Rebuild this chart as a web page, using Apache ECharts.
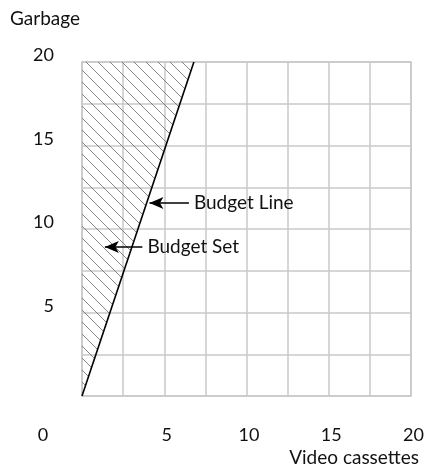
<!DOCTYPE html>
<html><head><meta charset="utf-8">
<script src="https://cdn.jsdelivr.net/npm/echarts@6/dist/echarts.min.js"></script>
<style>html,body{margin:0;padding:0;background:#fff}#c{width:427px;height:466px}</style>
</head><body><div id="c"></div>
<script>
// Data
const xTicks = [0, 5, 10, 15, 20];
const yTicks = [0, 5, 10, 15, 20];
const budgetLine = [[0, 0], [6.8, 20]];          // Budget line endpoints (video cassettes, garbage)
const budgetSetArea = [[0, 0], [6.8, 20], [0, 20]]; // hatched budget set
const annotations = [
  { name: 'Budget Line', from: [6.5, 11.55], to: [4.1, 11.55] },
  { name: 'Budget Set', from: [3.67, 8.92], to: [1.39, 8.92] }
];

const FONT = 'Lato';
const TXT = 19, NUM = 18;
const gridColor = '#c8c8c8';

// hatch pattern
const tile = document.createElement('canvas');
tile.width = 12; tile.height = 12;
const tc = tile.getContext('2d');
tc.strokeStyle = '#6a6a6a';
tc.lineWidth = 0.8;
[-12, 0, 12].forEach(o => { tc.beginPath(); tc.moveTo(o, 0); tc.lineTo(o + 12, 12); tc.stroke(); });

const chart = echarts.init(document.getElementById('c'), null, { renderer: 'canvas' });
chart.setOption({
  animation: false,
  backgroundColor: '#fff',
  textStyle: { fontFamily: FONT },
  title: [
    { text: 'Garbage', left: 5, top: 4,
      textStyle: { fontFamily: FONT, fontSize: TXT, fontWeight: 'normal', color: '#111' } },
    { text: 'Video cassettes', right: 3, top: 443,
      textStyle: { fontFamily: FONT, fontSize: TXT, fontWeight: 'normal', color: '#111' } }
  ],
  grid: { left: 82, top: 62, right: 13, bottom: 70, show: true, borderColor: gridColor, borderWidth: 1.5 },
  xAxis: {
    type: 'value', min: 0, max: 20, interval: 2.5,
    axisLine: { show: false }, axisTick: { show: false },
    axisLabel: {
      margin: 30, fontFamily: FONT, fontSize: NUM, color: '#111',
      formatter: v => xTicks.indexOf(v) < 0 ? '' : (v === 0 ? '{z|0}' : '{n|' + v + '}'),
      rich: {
        z: { fontFamily: FONT, fontSize: NUM, color: '#111', padding: [0, 78, 0, 0] },
        n: { fontFamily: FONT, fontSize: NUM, color: '#111', padding: [0, 0, 0, 5] }
      }
    },
    splitLine: { show: true, lineStyle: { color: gridColor, width: 1.5 } }
  },
  yAxis: {
    type: 'value', min: 0, max: 20, interval: 2.5,
    axisLine: { show: false }, axisTick: { show: false },
    axisLabel: {
      margin: 28, fontFamily: FONT, fontSize: NUM, color: '#111',
      formatter: v => (v === 0 || yTicks.indexOf(v) < 0) ? '' : '{a|' + v + '}',
      rich: { a: { fontFamily: FONT, fontSize: NUM, color: '#111', padding: [0, 0, 13, 0] } }
    },
    splitLine: { show: true, lineStyle: { color: gridColor, width: 1.5 } }
  },
  series: [
    {
      type: 'custom', silent: true, z: 1,
      data: [0],
      renderItem: (params, api) => ({
        type: 'polygon',
        shape: { points: budgetSetArea.map(p => api.coord(p)) },
        style: { fill: { image: tile, repeat: 'repeat' }, stroke: null }
      })
    },
    {
      type: 'line', data: budgetLine, symbol: 'none', z: 3,
      lineStyle: { color: '#000', width: 1.6 },
      markLine: {
        silent: true, symbol: ['none', 'arrow'], symbolSize: [9, 14],
        lineStyle: { color: '#000', width: 1.5, type: 'solid' },
        label: { show: true, position: 'start', formatter: p => p.name, fontFamily: FONT, fontSize: TXT, color: '#111', distance: 5 },
        data: annotations.map(a => [
          { coord: a.from, name: a.name },
          { coord: a.to }
        ])
      }
    }
  ]
});
</script></body></html>
